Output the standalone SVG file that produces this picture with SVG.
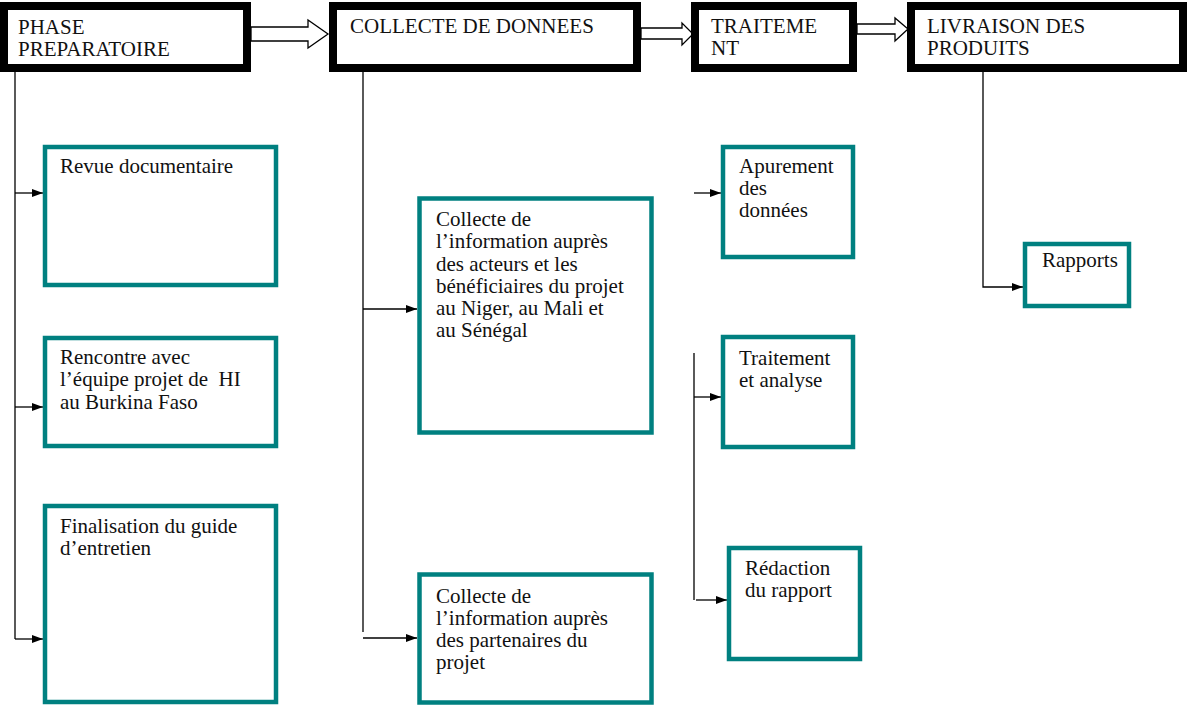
<svg xmlns="http://www.w3.org/2000/svg" width="1188" height="705" viewBox="0 0 1188 705">
<style>
  .hdr { fill: #fff; stroke: #000; stroke-width: 8; }
  .box { fill: #fff; stroke: #008080; stroke-width: 4.5; }
  .blk { fill: #fff; stroke: #000; stroke-width: 1.3; stroke-linejoin: miter; }
  .ln { fill: none; stroke: #000; stroke-width: 1.3; }
  .arr { fill: none; stroke: #000; stroke-width: 1.3; marker-end: url(#ah); }
  text { font-family: "Liberation Serif", "Times New Roman", serif; font-size: 21px; fill: #111; }
</style>
<defs>
  <marker id="ah" markerUnits="userSpaceOnUse" markerWidth="12" markerHeight="10" refX="11" refY="4" orient="auto">
    <path d="M0,0 L11,4 L0,8 Z" fill="#000"/>
  </marker>
</defs>
<rect width="1188" height="705" fill="#fff"/>

<g id="connectors">
  <polygon class="blk" points="251,27 308,27 308,20 328,34 308,48 308,41 251,41"/>
  <polygon class="blk" points="641,28 682,28 682,23 693,34 682,45 682,39 641,39"/>
  <polygon class="blk" points="857,24 895,24 895,18 908,29 895,41 895,34 857,34"/>
  <line class="ln" x1="15" y1="72" x2="15" y2="639"/>
  <line class="arr" x1="15" y1="193" x2="43" y2="193"/>
  <line class="arr" x1="15" y1="407" x2="43" y2="407"/>
  <line class="arr" x1="15" y1="639" x2="43" y2="639"/>
  <line class="ln" x1="363" y1="72" x2="363" y2="632"/>
  <line class="arr" x1="363" y1="309" x2="417" y2="309"/>
  <line class="arr" x1="363" y1="638" x2="417" y2="638"/>
  <line class="arr" x1="694" y1="193" x2="721" y2="193"/>
  <line class="ln" x1="694" y1="353" x2="694" y2="600"/>
  <line class="arr" x1="694" y1="397" x2="721" y2="397"/>
  <line class="arr" x1="696" y1="600" x2="727" y2="600"/>
  <polyline class="arr" points="983,72 983,287 1023,287"/>
</g>

<g id="phase-preparatoire">
  <rect class="hdr" x="4" y="6" width="243" height="62"/>
  <text x="18" y="34">PHASE</text>
  <text x="18" y="56">PREPARATOIRE</text>
</g>
<g id="collecte-donnees">
  <rect class="hdr" x="333" y="6" width="304" height="62"/>
  <text x="350" y="33">COLLECTE DE DONNEES</text>
</g>
<g id="traitement">
  <rect class="hdr" x="695" y="6" width="158" height="62"/>
  <text x="711" y="33">TRAITEME</text>
  <text x="711" y="55">NT</text>
</g>
<g id="livraison">
  <rect class="hdr" x="911" y="6" width="272" height="62"/>
  <text x="927" y="33">LIVRAISON DES</text>
  <text x="927" y="55">PRODUITS</text>
</g>

<g id="revue">
  <rect class="box" x="45" y="147" width="231" height="138"/>
  <text x="60" y="173">Revue documentaire</text>
</g>
<g id="rencontre">
  <rect class="box" x="45" y="338" width="231" height="108"/>
  <text x="60" y="364">Rencontre avec</text>
  <text x="60" y="386">l’équipe projet de &#160;HI</text>
  <text x="60" y="409">au Burkina Faso</text>
</g>
<g id="finalisation">
  <rect class="box" x="45" y="506" width="231" height="196"/>
  <text x="60" y="533">Finalisation du guide</text>
  <text x="60" y="555">d’entretien</text>
</g>
<g id="collecte-acteurs">
  <rect class="box" x="419.5" y="198.5" width="232" height="234"/>
  <text x="436" y="226">Collecte de</text>
  <text x="436" y="248">l’information auprès</text>
  <text x="436" y="271">des acteurs et les</text>
  <text x="436" y="293">bénéficiaires du projet</text>
  <text x="436" y="315">au Niger, au Mali et</text>
  <text x="436" y="337">au Sénégal</text>
</g>
<g id="collecte-partenaires">
  <rect class="box" x="419.5" y="574.5" width="232" height="128"/>
  <text x="436" y="603">Collecte de</text>
  <text x="436" y="625">l’information auprès</text>
  <text x="436" y="647">des partenaires du</text>
  <text x="436" y="669">projet</text>
</g>
<g id="apurement">
  <rect class="box" x="723" y="147" width="130" height="110"/>
  <text x="739" y="173">Apurement</text>
  <text x="739" y="195">des</text>
  <text x="739" y="217">données</text>
</g>
<g id="traitement-analyse">
  <rect class="box" x="723" y="337" width="130" height="110"/>
  <text x="739" y="365">Traitement</text>
  <text x="739" y="387">et analyse</text>
</g>
<g id="redaction">
  <rect class="box" x="729" y="548" width="131" height="111"/>
  <text x="745" y="575">Rédaction</text>
  <text x="745" y="597">du rapport</text>
</g>
<g id="rapports">
  <rect class="box" x="1025" y="244" width="104" height="62"/>
  <text x="1042" y="267">Rapports</text>
</g>
</svg>
